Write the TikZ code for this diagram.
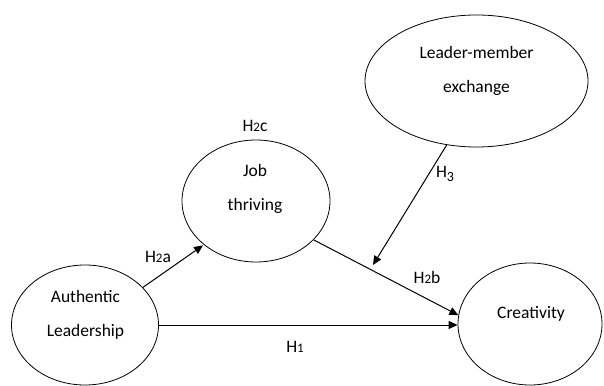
\documentclass[tikz,border=0pt]{standalone}
\usepackage{fontspec}
\setmainfont{Carlito}
\newcommand{\hd}[1]{{\fontsize{13}{16}\selectfont #1}}
\newcommand{\hdd}[1]{\raisebox{-3.5pt}{\fontsize{14}{16}\selectfont #1}}
\usetikzlibrary{shapes.geometric,arrows.meta}
\begin{document}
\begin{tikzpicture}[x=1pt,y=-1pt,
  construct/.style={draw,ellipse,line width=0.8pt,inner sep=0pt},
  ctext/.style={align=center,font=\fontsize{17.5}{34}\selectfont,inner sep=0pt},
  hyp/.style={font=\fontsize{17.5}{20}\selectfont,inner sep=0pt},
  link/.style={line width=1pt,-{Triangle[length=9pt,width=8pt]}}]
\useasboundingbox (0,0) rectangle (604,385);
% constructs
\node[construct,minimum width=147pt,minimum height=120pt] (auth) at (85,325) {};
\node[construct,minimum width=148pt,minimum height=122pt] (job) at (256,201) {};
\node[construct,minimum width=223pt,minimum height=132pt] (lmx) at (476.5,81) {};
\node[construct,minimum width=144pt,minimum height=122pt] (crea) at (530,324) {};
% texts
\node[ctext] (authT) at (85.5,315) {Authentic\\Leadership};
\node[ctext] (jobT) at (255,189) {Job\\thriving};
\node[ctext] (lmxT) at (476.5,71) {Leader-member\\exchange};
\node[ctext] (creaT) at (531,314) {Creativity};
% connectors
\draw[link] (auth.east) -- (crea.west |- auth.east);
\draw[link,shorten >=1pt] (auth.33) -- (job.220);
\draw[link] (job.-34) -- (crea.173);
\coordinate (h3end) at (373,265);
\draw[link] (lmx.245) -- (h3end);
% hypothesis labels
\node[hyp] (h1) at (295,347) {H\hd{1}};
\node[hyp] (h2a) at (158,257) {H\hd{2}a};
\node[hyp] (h2b) at (427,277) {H\hd{2}b};
\node[hyp] (h2c) at (255,126) {H\hd{2}c};
\node[hyp] (h3) at (445,174) {H\hdd{3}};
\end{tikzpicture}
\end{document}
